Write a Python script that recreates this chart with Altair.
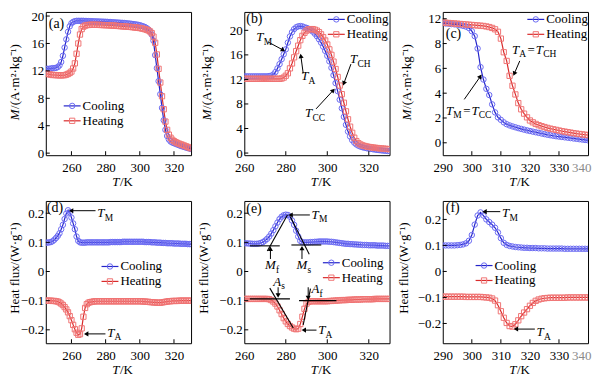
import math
import altair as alt
import pandas as pd

FONT = "Liberation Serif"
BLUE_M, BLUE_L = "#6b6bf2", "#2424c9"
RED_M, RED_L = "#f07474", "#d92b2b"
MAIN, SUB = 13, 9.5

# ---------------- data ----------------
T_a = list(range(245, 331))
cool_a = [12.3, 12.3, 12.3, 12.35, 12.4, 12.4, 12.45, 12.55, 12.8, 13.3,
          14.2, 15.4, 16.6, 17.7, 18.5, 18.95, 19.15, 19.25, 19.3, 19.3,
          19.3, 19.3, 19.3, 19.28, 19.27, 19.26, 19.25, 19.24, 19.23, 19.22,
          19.21, 19.2, 19.19, 19.18, 19.17, 19.16, 19.15, 19.13, 19.12, 19.1,
          19.08, 19.06, 19.05, 19.03, 19.01, 19.0, 18.98, 18.95, 18.92, 18.9,
          18.87, 18.84, 18.8, 18.76, 18.72, 18.66, 18.58, 18.5, 18.4, 18.25,
          18.05, 17.75, 17.3, 16.4, 14.3, 12.4, 10.5, 8.6, 6.6, 4.8,
          3.4, 2.5, 2.0, 1.7, 1.55, 1.45, 1.35, 1.25, 1.15, 1.05,
          0.97, 0.9, 0.82, 0.75, 0.68, 0.6]
heat_a = [11.6, 11.55, 11.5, 11.45, 11.4, 11.4, 11.38, 11.36, 11.35, 11.35,
          11.36, 11.38, 11.45, 11.55, 11.7, 11.9, 12.35, 13.1, 14.5, 16.0,
          17.3, 18.1, 18.45, 18.6, 18.68, 18.7, 18.72, 18.73, 18.73, 18.72,
          18.72, 18.71, 18.7, 18.69, 18.68, 18.67, 18.66, 18.65, 18.63, 18.62,
          18.6, 18.58, 18.56, 18.54, 18.52, 18.5, 18.48, 18.46, 18.44, 18.42,
          18.4, 18.37, 18.34, 18.31, 18.28, 18.25, 18.2, 18.15, 18.08, 18.0,
          17.9, 17.75, 17.5, 17.0, 16.1, 14.4, 12.3, 10.3, 8.3, 6.4,
          4.6, 3.4, 2.7, 2.25, 1.95, 1.75, 1.6, 1.48, 1.38, 1.28,
          1.2, 1.1, 1.0, 0.9, 0.8, 0.7]

T_b = list(range(260, 331))
cool_b = [12.5, 12.5, 12.5, 12.5, 12.5, 12.5, 12.5, 12.5, 12.5, 12.5,
          12.5, 12.5, 12.55, 12.6, 12.8, 13.2, 13.8, 14.5, 15.3, 16.1,
          16.9, 18.0, 19.0, 19.7, 20.2, 20.5, 20.65, 20.7, 20.65, 20.5,
          20.4, 20.25, 20.05, 19.8, 19.45, 19.05, 18.55, 18.0, 17.35, 16.65,
          15.85, 14.95, 13.9, 12.7, 11.4, 10.1, 8.7, 7.3, 5.9, 4.6,
          3.5, 2.7, 2.1, 1.7, 1.4, 1.2, 1.05, 0.95, 0.86, 0.79,
          0.73, 0.67, 0.62, 0.57, 0.52, 0.48, 0.44, 0.4, 0.37, 0.34,
          0.31]
heat_b = [12.1, 12.1, 12.1, 12.1, 12.1, 12.1, 12.1, 12.1, 12.1, 12.1,
          12.1, 12.1, 12.1, 12.1, 12.1, 12.1, 12.1, 12.1, 12.15, 12.3,
          12.6, 13.0, 13.8, 14.6, 15.6, 16.6, 17.5, 18.4, 19.1, 19.6,
          19.95, 20.15, 20.2, 20.2, 20.1, 19.95, 19.7, 19.35, 18.9, 18.35,
          17.7, 16.9, 16.0, 14.9, 13.7, 12.4, 11.0, 9.6, 8.2, 6.8,
          5.5, 4.3, 3.3, 2.5, 1.95, 1.6, 1.4, 1.25, 1.15, 1.07,
          1.0, 0.95, 0.9, 0.86, 0.82, 0.78, 0.75, 0.72, 0.69, 0.66,
          0.63]

T_c = list(range(290, 341))
cool_c = [9.65, 9.62, 9.6, 9.57, 9.55, 9.52, 9.48, 9.43, 9.37, 9.25,
          9.0, 8.6, 7.6, 6.1, 5.1, 4.35, 3.85, 3.1, 2.45, 2.05,
          1.85, 1.65, 1.5, 1.4, 1.32, 1.25, 1.18, 1.12, 1.06, 1.0,
          0.95, 0.9, 0.85, 0.8, 0.75, 0.7, 0.65, 0.61, 0.57, 0.53,
          0.5, 0.47, 0.44, 0.41, 0.38, 0.35, 0.32, 0.29, 0.26, 0.23,
          0.2]
heat_c = [9.7, 9.68, 9.66, 9.64, 9.62, 9.6, 9.58, 9.56, 9.54, 9.52,
          9.5, 9.48, 9.46, 9.44, 9.42, 9.38, 9.33, 9.26, 9.15, 8.95,
          8.4, 7.3, 6.6, 5.4, 4.6, 3.9, 3.2, 2.7, 2.35, 2.05,
          1.8, 1.65, 1.52, 1.42, 1.34, 1.27, 1.2, 1.14, 1.09, 1.04,
          0.99, 0.94, 0.9, 0.86, 0.82, 0.78, 0.74, 0.71, 0.68, 0.65,
          0.62]

T_d = list(range(245, 331))
cool_d = [0.099, 0.099, 0.1, 0.101, 0.104, 0.109, 0.115, 0.122, 0.131, 0.145,
          0.16, 0.18, 0.199, 0.21, 0.203, 0.185, 0.165, 0.145, 0.12, 0.105,
          0.1, 0.099, 0.099, 0.099, 0.1, 0.1, 0.1, 0.1, 0.1, 0.1,
          0.1, 0.1, 0.1, 0.1, 0.1, 0.1, 0.1, 0.1, 0.101, 0.101,
          0.101, 0.101, 0.101, 0.101, 0.101, 0.102, 0.102, 0.102, 0.102, 0.102,
          0.102, 0.102, 0.102, 0.102, 0.102, 0.102, 0.102, 0.102, 0.101, 0.101,
          0.101, 0.101, 0.1, 0.1, 0.1, 0.099, 0.099, 0.099, 0.098, 0.098,
          0.098, 0.097, 0.097, 0.097, 0.097, 0.096, 0.096, 0.096, 0.096, 0.095,
          0.095, 0.095, 0.095, 0.094, 0.094, 0.094]
heat_d = [-0.1, -0.1, -0.1, -0.1, -0.101, -0.101, -0.102, -0.103, -0.106, -0.11,
          -0.115, -0.122, -0.13, -0.14, -0.153, -0.167, -0.183, -0.198, -0.21, -0.217,
          -0.215, -0.195, -0.155, -0.125, -0.112, -0.107, -0.105, -0.104, -0.103, -0.102,
          -0.102, -0.102, -0.102, -0.102, -0.102, -0.102, -0.102, -0.102, -0.102, -0.102,
          -0.102, -0.102, -0.102, -0.102, -0.102, -0.102, -0.102, -0.102, -0.102, -0.102,
          -0.102, -0.102, -0.102, -0.102, -0.102, -0.102, -0.102, -0.103, -0.103, -0.104,
          -0.104, -0.105, -0.105, -0.106, -0.106, -0.107, -0.107, -0.107, -0.106, -0.105,
          -0.104, -0.103, -0.102, -0.102, -0.101, -0.101, -0.101, -0.101, -0.1, -0.1,
          -0.1, -0.1, -0.1, -0.1, -0.1, -0.1]

T_e = list(range(260, 331))
cool_e = [0.097, 0.097, 0.096, 0.096, 0.095, 0.095, 0.095, 0.096, 0.098, 0.101,
          0.106, 0.112, 0.12, 0.13, 0.142, 0.155, 0.168, 0.18, 0.188, 0.193,
          0.195, 0.194, 0.188, 0.175, 0.16, 0.14, 0.12, 0.105, 0.1, 0.1,
          0.1, 0.1, 0.101, 0.101, 0.102, 0.102, 0.103, 0.103, 0.103, 0.103,
          0.103, 0.102, 0.102, 0.101, 0.1, 0.099, 0.098, 0.097, 0.096, 0.095,
          0.095, 0.094, 0.094, 0.093, 0.093, 0.092, 0.092, 0.091, 0.091, 0.091,
          0.09, 0.09, 0.09, 0.09, 0.089, 0.089, 0.089, 0.089, 0.088, 0.088,
          0.088]
heat_e = [-0.094, -0.094, -0.094, -0.094, -0.094, -0.094, -0.094, -0.094, -0.094, -0.094,
          -0.094, -0.094, -0.095, -0.098, -0.103, -0.11, -0.12, -0.133, -0.146, -0.16,
          -0.171, -0.18, -0.187, -0.192, -0.196, -0.198, -0.196, -0.18, -0.155, -0.128,
          -0.11, -0.104, -0.102, -0.102, -0.102, -0.102, -0.102, -0.102, -0.102, -0.102,
          -0.102, -0.101, -0.101, -0.1, -0.1, -0.099, -0.099, -0.098, -0.098, -0.098,
          -0.097, -0.097, -0.097, -0.096, -0.096, -0.096, -0.096, -0.095, -0.095, -0.095,
          -0.095, -0.095, -0.095, -0.094, -0.094, -0.094, -0.094, -0.094, -0.094, -0.094,
          -0.094]

T_f = list(range(290, 341))
cool_f = [0.1, 0.1, 0.1, 0.1, 0.1, 0.101, 0.102, 0.104, 0.108, 0.118,
          0.14, 0.18, 0.215, 0.227, 0.215, 0.2, 0.19, 0.18, 0.168, 0.15,
          0.128, 0.11, 0.102, 0.098, 0.096, 0.094, 0.093, 0.092, 0.091, 0.091,
          0.09, 0.09, 0.09, 0.089, 0.089, 0.089, 0.088, 0.088, 0.088, 0.088,
          0.088, 0.088, 0.087, 0.087, 0.087, 0.087, 0.087, 0.087, 0.087, 0.087,
          0.087]
heat_f = [-0.097, -0.097, -0.097, -0.097, -0.097, -0.097, -0.097, -0.097, -0.098, -0.098,
          -0.098, -0.098, -0.098, -0.098, -0.099, -0.1, -0.101, -0.104, -0.112, -0.13,
          -0.153, -0.178, -0.198, -0.21, -0.212, -0.203, -0.188, -0.172, -0.158, -0.145,
          -0.132, -0.121, -0.113, -0.108, -0.105, -0.103, -0.102, -0.101, -0.101, -0.101,
          -0.101, -0.101, -0.101, -0.1, -0.1, -0.1, -0.1, -0.1, -0.1, -0.1,
          -0.1]

series_labels = ["Cooling", "Heating"]
M_TITLE_REST = "/(A\u00b7m\u00b2\u00b7kg\u207b\u00b9)"
HF_TITLE = "Heat flux/(W\u00b7g\u207b\u00b9)"

# ---------------- layout ----------------
W_COLS = [146, 146, 146]
H_ROWS = [144, 143]
REF_H = [154, 152]

MAIN_W = {"T": 0.556, "M": 0.833, "A": 0.611, "=": 0.564}
SUB_W = {"M": 0.889, "A": 0.722, "CH": 1.389, "CC": 1.334, "f": 0.333, "s": 0.389}

panels = [
    dict(tag="(a)", T=T_a, cool=cool_a, heat=heat_a, xd=(245, 330), yd=(-0.3, 20.6),
         xlab=[260, 280, 300, 320], xin=[260, 280, 300, 320], ylab=[0, 4, 8, 12, 16, 20],
         yfmt="d", kind="M", tdist=31, legend=(18, 101), tagpos=(3, 13),
         arrows=[], texts=[], segs=[]),
    dict(tag="(b)", T=T_b, cool=cool_b, heat=heat_b, xd=(260, 330), yd=(-0.35, 23.0),
         xlab=[260, 280, 300, 320], xin=[280, 300, 320], ylab=[0, 4, 8, 12, 16, 20],
         yfmt="d", kind="M", tdist=37, legend=(84, 7), tagpos=(2, 8),
         arrows=[(271.5, 18.1, 279.7, 16.6), (288.4, 13.0, 287.1, 16.2),
                 (311.4, 14.5, 307.6, 11.0), (294.6, 7.2, 303.6, 10.5)],
         texts=[(265.8, 18.9, [("T", "i"), ("M", "s")]),
                (287.4, 12.5, [("T", "i"), ("A", "s")]),
                (311.0, 15.3, [("T", "i"), ("CH", "s")]),
                (289.3, 6.5, [("T", "i"), ("CC", "s")])],
         segs=[]),
    dict(tag="(c)", T=T_c, cool=cool_c, heat=heat_c, xd=(290, 340), yd=(-1.0, 10.55),
         xlab=[290, 300, 310, 320, 330, 340], xin=[300, 310, 320, 330], ylab=[0, 2, 4, 6, 8, 10],
         yfmt="c", kind="M", tdist=36, legend=(85, 8), tagpos=(3, 24),
         arrows=[(316.5, 6.6, 314.3, 5.4), (297.4, 3.5, 303.4, 5.5)],
         texts=[(313.8, 7.5, [("T", "i"), ("A", "s"), ("=", "r"), ("T", "i"), ("CH", "s")]),
                (291.1, 2.6, [("T", "i"), ("M", "s"), ("=", "r"), ("T", "i"), ("CC", "s")])],
         segs=[]),
    dict(tag="(d)", T=T_d, cool=cool_d, heat=heat_d, xd=(245, 330), yd=(-0.246, 0.242),
         xlab=[260, 280, 300, 320], xin=[260, 280, 300, 320], ylab=[-0.2, -0.1, 0, 0.1, 0.2],
         yfmt=".1~f", kind="H", tdist=31, legend=(56, 70), tagpos=(1, 8),
         arrows=[(274.1, 0.2086, 258.5, 0.2086), (279.9, -0.214, 267.3, -0.214)],
         texts=[(275.1, 0.2, [("T", "i"), ("M", "s")]),
                (280.9, -0.211, [("T", "i"), ("A", "s")])],
         segs=[]),
    dict(tag="(e)", T=T_e, cool=cool_e, heat=heat_e, xd=(260, 330), yd=(-0.246, 0.242),
         xlab=[260, 280, 300, 320], xin=[280, 300, 320], ylab=[-0.2, -0.1, 0, 0.1, 0.2],
         yfmt=".1~f", kind="H", tdist=40, legend=(79, 66), tagpos=(2, 9),
         arrows=[(272.6, 0.043, 272.6, 0.086), (287.8, 0.043, 287.8, 0.088),
                 (291.6, 0.194, 281.2, 0.194), (276.3, -0.054, 276.3, -0.09),
                 (290.8, -0.054, 290.8, -0.098), (294.8, -0.201, 287.6, -0.201)],
         texts=[(270.0, 0.0215, [("M", "i"), ("f", "s")]),
                (285.2, 0.0215, [("M", "i"), ("s", "s")]),
                (292.4, 0.194, [("T", "i"), ("M", "s")]),
                (273.9, -0.035, [("A", "i"), ("s", "s")]),
                (292.4, -0.061, [("A", "i"), ("f", "s")]),
                (295.6, -0.201, [("T", "i"), ("A", "s")])],
         segs=[(262.7, 0.088, 277.1, 0.088), (271.1, 0.07, 280.8, 0.194),
               (282.7, 0.091, 297.1, 0.091), (282.2, 0.188, 291.3, 0.059),
               (262.7, -0.094, 282.0, -0.094), (272.3, -0.057, 283.6, -0.194),
               (286.4, -0.1, 304.4, -0.1), (291.9, -0.059, 288.4, -0.183)]),
    dict(tag="(f)", T=T_f, cool=cool_f, heat=heat_f, xd=(290, 340), yd=(-0.276, 0.271),
         xlab=[290, 300, 310, 320, 330, 340], xin=[300, 310, 320, 330], ylab=[-0.2, -0.1, 0, 0.1, 0.2],
         yfmt=".1~f", kind="H", tdist=39, legend=(33, 69), tagpos=(3, 8),
         arrows=[(309.8, 0.23, 303.6, 0.23), (321.7, -0.2216, 314.4, -0.2216)],
         texts=[(310.4, 0.224, [("T", "i"), ("M", "s")]),
                (322.3, -0.2335, [("T", "i"), ("A", "s")])],
         segs=[]),
]


def build(p, W, H, refH):
    xd, yd = p["xd"], p["yd"]
    xr, yr = xd[1] - xd[0], yd[1] - yd[0]
    sy = H / refH
    xs = alt.Scale(domain=list(xd), nice=False, zero=False)
    ys = alt.Scale(domain=list(yd), nice=False, zero=False)

    xextra = {}
    if p["tag"] in ("(c)", "(f)"):
        xextra["labelAlign"] = {"condition": {"test": "datum.value == 340", "value": "right"}, "value": "center"}
        xextra["labelColor"] = {"condition": {"test": "datum.value == 340", "value": "#8a8a8a"}, "value": "black"}
        xextra["labelOffset"] = {"condition": {"test": "datum.value == 340", "value": 3}, "value": 0}
    else:
        xextra["labelAlign"] = "center"
        xextra["labelColor"] = "black"
    xaxis = alt.Axis(values=p["xlab"], ticks=False, domain=False, grid=False, title=None,
                     labelFont=FONT, labelFontSize=13, labelPadding=6, labelFlush=False,
                     labelOverlap=False, **xextra)
    yargs = dict(values=p["ylab"], ticks=False, domain=False, grid=False, title=None,
                 labelFont=FONT, labelFontSize=13, labelPadding=2, labelColor="black",
                 labelOverlap=False, labelFlush=False)
    if p["yfmt"] == "c":
        yargs["labelExpr"] = "datum.value == 10 ? '12' : datum.label"
    else:
        yargs["format"] = p["yfmt"]
    yaxis = alt.Axis(**yargs)

    def X(f):
        return alt.X(f, scale=xs, axis=xaxis)

    def Y(f):
        return alt.Y(f, scale=ys, axis=yaxis)

    df = pd.DataFrame({"T": p["T"], "cool": p["cool"], "heat": p["heat"]})
    base = alt.Chart(df)
    layers = []
    layers.append(base.mark_line(color=BLUE_L, strokeWidth=1.2, clip=True).encode(
        x=X("T:Q"), y=Y("cool:Q")))
    layers.append(base.mark_line(color=RED_L, strokeWidth=1.2, clip=True).encode(
        x=X("T:Q"), y=Y("heat:Q")))
    layers.append(base.mark_point(shape="circle", filled=False, size=30, strokeWidth=1,
                                  color=BLUE_M, opacity=1, clip=True).encode(
        x=X("T:Q"), y=Y("cool:Q")))
    layers.append(base.mark_point(shape="square", filled=False, size=28, strokeWidth=1,
                                  color=RED_M, opacity=1, clip=True).encode(
        x=X("T:Q"), y=Y("heat:Q")))

    # inward ticks
    layers.append(alt.Chart(pd.DataFrame({"v": p["xin"]})).mark_rule(color="black", strokeWidth=1).encode(
        x=X("v:Q"), y=alt.value(H), y2=alt.value(H - 4)))
    layers.append(alt.Chart(pd.DataFrame({"v": p["ylab"]})).mark_rule(color="black", strokeWidth=1).encode(
        y=Y("v:Q"), x=alt.value(0), x2=alt.value(4)))

    # tangent segments
    if p["segs"]:
        sd = pd.DataFrame([dict(x=a, y=b, x2=c, y2=d) for a, b, c, d in p["segs"]])
        layers.append(alt.Chart(sd).mark_rule(color="black", strokeWidth=1.1).encode(
            x=X("x:Q"), y=Y("y:Q"), x2="x2:Q", y2="y2:Q"))

    # arrows
    if p["arrows"]:
        rules, heads = [], []
        for (tx, tv, hx, hv) in p["arrows"]:
            dxp = (hx - tx) / xr * W
            dyp = -(hv - tv) / yr * H
            L = math.hypot(dxp, dyp)
            ux, uy = dxp / L, dyp / L
            back = 3.0
            cx = hx - ux * back / W * xr
            cv = hv + uy * back / H * yr
            ang = math.degrees(math.atan2(ux, -uy)) % 360
            rules.append(dict(x=tx, y=tv, x2=cx, y2=cv))
            heads.append(dict(x=cx, y=cv, a=ang))
        layers.append(alt.Chart(pd.DataFrame(rules)).mark_rule(color="black", strokeWidth=1).encode(
            x=X("x:Q"), y=Y("y:Q"), x2="x2:Q", y2="y2:Q"))
        layers.append(alt.Chart(pd.DataFrame(heads)).mark_point(
            shape="triangle", filled=True, size=26, color="black", opacity=1).encode(
            x=X("x:Q"), y=Y("y:Q"), angle=alt.Angle("a:Q", scale=None)))

    # annotation texts (letters + subscripts)
    if p["texts"]:
        rows = {"i": [], "s": [], "r": []}
        for (x0, v0, parts) in p["texts"]:
            cur = 0.0
            for (t, k) in parts:
                if k == "s":
                    w = SUB_W[t] * SUB
                    rows["s"].append(dict(x=x0 + cur / W * xr, y=v0 - 4.5 / H * yr, t=t))
                    cur += w + 0.6
                elif k == "r":
                    cur += 0.8
                    w = MAIN_W[t] * MAIN
                    rows["r"].append(dict(x=x0 + cur / W * xr, y=v0, t=t))
                    cur += w + 1.0
                else:
                    w = MAIN_W[t] * MAIN
                    rows["i"].append(dict(x=x0 + cur / W * xr, y=v0, t=t))
                    cur += w + 0.2
        styles = {"i": dict(fontSize=MAIN, fontStyle="italic"),
                  "s": dict(fontSize=SUB),
                  "r": dict(fontSize=MAIN)}
        for k, rws in rows.items():
            if not rws:
                continue
            layers.append(alt.Chart(pd.DataFrame(rws)).mark_text(
                align="left", baseline="middle", font=FONT, color="black", **styles[k]).encode(
                x=X("x:Q"), y=Y("y:Q"), text="t:N"))

    # legend (inside the plot)
    lx, ly1 = p["legend"]
    y1 = max(7.5, ly1 * sy)
    for lab, yy, shape, mc, lc, sz in [(series_labels[0], y1, "circle", BLUE_M, BLUE_L, 30),
                                       (series_labels[1], y1 + 15, "square", RED_M, RED_L, 28)]:
        ld = pd.DataFrame({"label": [lab]})
        layers.append(alt.Chart(ld).mark_rule(color=lc, strokeWidth=1.2).encode(
            x=alt.value(lx), x2=alt.value(lx + 17), y=alt.value(yy)))
        layers.append(alt.Chart(ld).mark_point(shape=shape, filled=False, size=sz, strokeWidth=1,
                                               color=mc, opacity=1).encode(
            x=alt.value(lx + 8.5), y=alt.value(yy)))
        layers.append(alt.Chart(ld).mark_text(align="left", baseline="middle", font=FONT,
                                              fontSize=13, color="black").encode(
            x=alt.value(lx + 19), y=alt.value(yy), text="label:N"))

    # panel tag
    tx, ty = p["tagpos"]
    layers.append(alt.Chart(pd.DataFrame({"t": [p["tag"]]})).mark_text(
        align="left", baseline="middle", font=FONT, fontSize=14, color="black").encode(
        x=alt.value(tx), y=alt.value(max(7.5, ty * sy)), text="t:N"))

    # x title: italic T + "/K"
    xt = pd.DataFrame({"a": ["T"], "b": ["/K"]})
    layers.append(alt.Chart(xt).mark_text(align="right", baseline="middle", font=FONT,
                                          fontSize=13, fontStyle="italic", color="black").encode(
        x=alt.value(W / 2 + 1), y=alt.value(H + 27), text="a:N"))
    layers.append(alt.Chart(xt).mark_text(align="left", baseline="middle", font=FONT,
                                          fontSize=13, color="black").encode(
        x=alt.value(W / 2 + 1.5), y=alt.value(H + 27), text="b:N"))

    # y title
    d = p["tdist"]
    if p["kind"] == "M":
        yt = pd.DataFrame({"a": ["M"], "b": [M_TITLE_REST]})
        layers.append(alt.Chart(yt).mark_text(align="right", baseline="middle", font=FONT,
                                              fontSize=13, fontStyle="italic", angle=270,
                                              color="black").encode(
            x=alt.value(-d), y=alt.value(H / 2 + 26), text="a:N"))
        layers.append(alt.Chart(yt).mark_text(align="left", baseline="middle", font=FONT,
                                              fontSize=13, angle=270, color="black").encode(
            x=alt.value(-d), y=alt.value(H / 2 + 25.5), text="b:N"))
    else:
        yt = pd.DataFrame({"a": [HF_TITLE]})
        layers.append(alt.Chart(yt).mark_text(align="center", baseline="middle", font=FONT,
                                              fontSize=13, angle=270, color="black").encode(
            x=alt.value(-d), y=alt.value(H / 2 - 4), text="a:N"))

    return alt.layer(*layers).properties(width=W, height=H)


charts = []
for i, p in enumerate(panels):
    r, c = divmod(i, 3)
    charts.append(build(p, W_COLS[c], H_ROWS[r], REF_H[r]))

chart = alt.concat(*charts, columns=3, spacing={"row": 46, "column": 53.5},
                   bounds="flush").properties(
    padding=0, background="white"
).configure_view(stroke="black", strokeWidth=1)

chart.save("out.html", embed_options={"renderer": "svg", "actions": False})
